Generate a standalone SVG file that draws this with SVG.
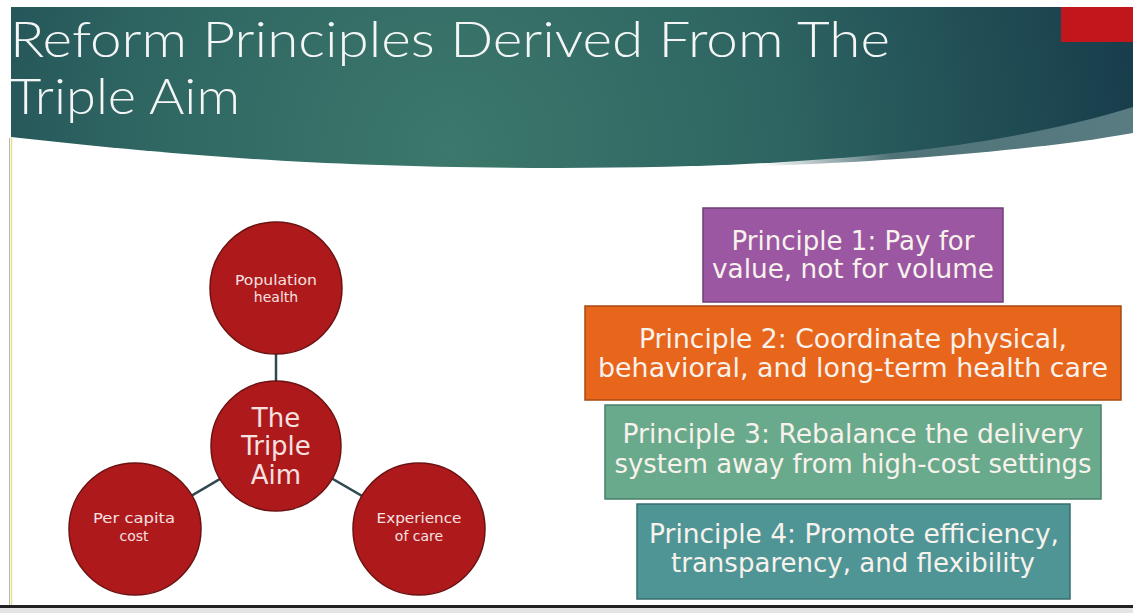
<svg xmlns="http://www.w3.org/2000/svg" width="1133" height="613" viewBox="0 0 1133 613">
<defs>
<radialGradient id="hdr" gradientUnits="userSpaceOnUse" cx="450" cy="150" r="720">
<stop offset="0" stop-color="#3c786b"/>
<stop offset="0.45" stop-color="#2e6562"/>
<stop offset="1" stop-color="#163a4a"/>
</radialGradient>
<linearGradient id="swoosh" x1="760" y1="0" x2="1133" y2="0" gradientUnits="userSpaceOnUse">
<stop offset="0" stop-color="#4f7377" stop-opacity="0"/>
<stop offset="0.35" stop-color="#4f7377" stop-opacity="1"/>
<stop offset="1" stop-color="#587c82"/>
</linearGradient>
<style>
.title{font-family:Lato,"Liberation Sans",sans-serif;font-weight:300;font-size:50px;fill:#f4f6f6}
.circ{fill:#ae1a1c;stroke:#6c1212;stroke-width:1.5}
.ct{font-family:"DejaVu Sans","Liberation Sans",sans-serif;fill:#f6e0e0;text-anchor:middle}
.small{font-size:14px}
.big{font-size:26px}
.bt{font-family:"DejaVu Sans","Liberation Sans",sans-serif;font-size:26px;fill:#f8f2ec;text-anchor:middle}
.conn{stroke:#2f4a4e;stroke-width:2.5;fill:none}
</style>
</defs>
<rect x="0" y="0" width="1133" height="613" fill="#ffffff"/>
<g id="header">
<path d="M700,150 L1133,100 L1133,133 C1050,148 900,163 700,168 Z" fill="url(#swoosh)"/>
<path d="M11,7 L1133,7 L1133,107 C1000,148 820,168 560,168 C300,168 150,152 11,137 Z" fill="url(#hdr)"/>
<rect x="1061" y="7" width="72" height="35" fill="#c1161c"/>
<text class="title" x="10" y="57" textLength="880" lengthAdjust="spacingAndGlyphs">Reform Principles Derived From The</text>
<text class="title" x="10" y="114" textLength="230" lengthAdjust="spacingAndGlyphs">Triple Aim</text>
</g>
<g id="frame">
<line x1="9.5" y1="138" x2="9.5" y2="606" stroke="#b8b8b8" stroke-width="1"/>
<line x1="11.5" y1="138" x2="11.5" y2="606" stroke="#e6df86" stroke-width="1.5"/>
<rect x="0" y="605" width="1133" height="3" fill="#222222"/>
<rect x="0" y="608" width="1133" height="5" fill="#e4e4e4"/>
</g>
<g id="connectors">
<line class="conn" x1="276" y1="354" x2="276" y2="381"/>
<line class="conn" x1="276" y1="446" x2="135" y2="529"/>
<line class="conn" x1="276" y1="446" x2="419" y2="529"/>
</g>
<g id="node-population-health">
<circle class="circ" cx="276" cy="288" r="66"/>
<text class="ct small" x="276" y="285" textLength="82" lengthAdjust="spacingAndGlyphs">Population</text>
<text class="ct small" x="276" y="302">health</text>
</g>
<g id="node-triple-aim">
<circle class="circ" cx="276" cy="446" r="65"/>
<text class="ct big" x="276" y="427">The</text>
<text class="ct big" x="276" y="455">Triple</text>
<text class="ct big" x="276" y="484">Aim</text>
</g>
<g id="node-per-capita-cost">
<circle class="circ" cx="135" cy="529" r="66"/>
<text class="ct small" x="134" y="523" textLength="82" lengthAdjust="spacingAndGlyphs">Per capita</text>
<text class="ct small" x="134" y="541">cost</text>
</g>
<g id="node-experience-of-care">
<circle class="circ" cx="419" cy="529" r="66"/>
<text class="ct small" x="419" y="523" textLength="85" lengthAdjust="spacingAndGlyphs">Experience</text>
<text class="ct small" x="419" y="541">of care</text>
</g>
<g id="principle-1">
<rect x="703" y="208" width="300" height="94" fill="#9c57a2" stroke="#6f3f75" stroke-width="1.5"/>
<text class="bt" x="853" y="250" textLength="243" lengthAdjust="spacingAndGlyphs">Principle 1: Pay for</text>
<text class="bt" x="853" y="278" textLength="282" lengthAdjust="spacingAndGlyphs">value, not for volume</text>
</g>
<g id="principle-2">
<rect x="585" y="306" width="536" height="94" fill="#e8651c" stroke="#a84812" stroke-width="1.5"/>
<text class="bt" x="853" y="348" textLength="428" lengthAdjust="spacingAndGlyphs">Principle 2: Coordinate physical,</text>
<text class="bt" x="853" y="377" textLength="510" lengthAdjust="spacingAndGlyphs">behavioral, and long-term health care</text>
</g>
<g id="principle-3">
<rect x="605" y="405" width="496" height="94" fill="#6aaa8c" stroke="#4a7f67" stroke-width="1.5"/>
<text class="bt" x="853" y="443" textLength="461" lengthAdjust="spacingAndGlyphs">Principle 3: Rebalance the delivery</text>
<text class="bt" x="853" y="473" textLength="477" lengthAdjust="spacingAndGlyphs">system away from high-cost settings</text>
</g>
<g id="principle-4">
<rect x="637" y="504" width="433" height="95" fill="#4f9596" stroke="#376d6f" stroke-width="1.5"/>
<text class="bt" x="854" y="543" textLength="410" lengthAdjust="spacingAndGlyphs">Principle 4: Promote efficiency,</text>
<text class="bt" x="853" y="572" textLength="364" lengthAdjust="spacingAndGlyphs">transparency, and flexibility</text>
</g>
</svg>
